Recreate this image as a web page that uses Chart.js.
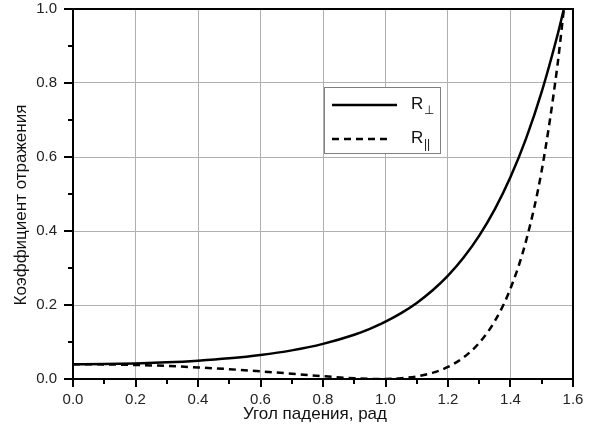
<!DOCTYPE html>
<html>
<head>
<meta charset="utf-8">
<script src="https://cdn.jsdelivr.net/npm/chart.js@4"></script>
<style>
  html, body { margin: 0; padding: 0; background: #fff; }
  #wrap { width: 594px; height: 432px; }
</style>
</head>
<body>
<div id="wrap"><canvas id="fresnelChart" width="594" height="432"></canvas></div>
<script>
// angle of incidence, rad
const angles = [0, 0.1, 0.2, 0.3, 0.4, 0.5, 0.6, 0.7, 0.8, 0.9, 0.95, 0.98, 1.0, 1.05, 1.1, 1.15, 1.2, 1.25, 1.3, 1.35, 1.4, 1.45, 1.5, 1.55, 1.5708];
// R perpendicular (solid)
const rPerp = [0.040, 0.0405, 0.0422, 0.0451, 0.0496, 0.0560, 0.0649, 0.0774, 0.0950, 0.1197, 0.1357, 0.1470, 0.1549, 0.1780, 0.2057, 0.2391, 0.2795, 0.3284, 0.3875, 0.4591, 0.5457, 0.6503, 0.7765, 0.9283, 1.0];
// R parallel (dashed)
const rPar = [0.040, 0.0395, 0.0379, 0.0352, 0.0314, 0.0265, 0.0207, 0.0142, 0.0075, 0.0020, 0.0004, 0.0, 0.0001, 0.0020, 0.0070, 0.0165, 0.0327, 0.0584, 0.0978, 0.1569, 0.2446, 0.3739, 0.5643, 0.8458, 1.0];

const legendBase = ['R', 'R'];
const legendSub = ['\u22A5', '||'];

const xTitle = 'Угол падения, рад';
const yTitle = 'Коэффициент отражения';

const FONT = '"Liberation Sans", Arial, sans-serif';

function toPoints(ys) {
    return angles.map((a, i) => ({ x: a, y: ys[i] }));
}

function isMajor(value) {
    return Math.round(value * 10) % 2 === 0;
}

function majorOnly(value) {
    return isMajor(value) ? value.toFixed(1) : '';
}

function gridColor(ctx) {
    if (!ctx.tick) return 'transparent';
    return isMajor(ctx.tick.value) ? '#b0b0b0' : 'transparent';
}

// box on top/right, outward ticks (long major, short minor), axis titles
const frame = {
    id: 'frame',
    afterDatasetsDraw(chart) {
        const { ctx, chartArea: a, scales } = chart;
        ctx.save();
        ctx.strokeStyle = '#000';
        ctx.lineWidth = 2;
        ctx.beginPath();
        ctx.moveTo(a.left, a.top);
        ctx.lineTo(a.right, a.top);
        ctx.lineTo(a.right, a.bottom);
        ctx.stroke();

        ctx.beginPath();
        scales.x.ticks.forEach(t => {
            const px = Math.round(scales.x.getPixelForValue(t.value));
            ctx.moveTo(px, a.bottom);
            ctx.lineTo(px, a.bottom + (isMajor(t.value) ? 8 : 5));
        });
        scales.y.ticks.forEach(t => {
            const py = Math.round(scales.y.getPixelForValue(t.value));
            ctx.moveTo(a.left, py);
            ctx.lineTo(a.left - (isMajor(t.value) ? 9 : 5), py);
        });
        ctx.stroke();

        ctx.fillStyle = '#111';
        ctx.font = '17px ' + FONT;
        ctx.textAlign = 'center';
        ctx.textBaseline = 'middle';
        ctx.fillText(xTitle, 315, 414);
        ctx.translate(21, 205);
        ctx.rotate(-Math.PI / 2);
        ctx.fillText(yTitle, 0, 0);
        ctx.restore();
    }
};

// boxed legend inside the plot
const boxLegend = {
    id: 'boxLegend',
    afterDatasetsDraw(chart) {
        const ctx = chart.ctx;
        const x0 = 324, y0 = 87, w = 116, h = 66;
        ctx.save();
        ctx.fillStyle = '#fff';
        ctx.fillRect(x0, y0, w, h);
        ctx.strokeStyle = '#808080';
        ctx.lineWidth = 1;
        ctx.strokeRect(x0 + 0.5, y0 + 0.5, w, h);

        const rows = [105, 139];
        const ends = [397, 390];
        chart.data.datasets.forEach((ds, i) => {
            ctx.strokeStyle = '#000';
            ctx.lineWidth = 2.5;
            ctx.setLineDash(ds.borderDash || []);
            ctx.beginPath();
            ctx.moveTo(332, rows[i]);
            ctx.lineTo(ends[i], rows[i]);
            ctx.stroke();
            ctx.setLineDash([]);

            ctx.fillStyle = '#111';
            ctx.textBaseline = 'middle';
            ctx.font = '17px ' + FONT;
            ctx.fillText(legendBase[i], 411, rows[i] - 1);
            ctx.font = '12px ' + FONT;
            ctx.fillText(legendSub[i], 424, rows[i] + 6);
        });
        ctx.restore();
    }
};

const ctx = document.getElementById('fresnelChart').getContext('2d');
const chart = new Chart(ctx, {
    type: 'line',
    data: {
        datasets: [{
            label: 'R\u22A5',
            data: toPoints(rPerp),
            borderColor: '#000',
            borderWidth: 2.5,
            pointRadius: 0,
            cubicInterpolationMode: 'monotone',
            fill: false
        }, {
            label: 'R||',
            data: toPoints(rPar),
            borderColor: '#000',
            borderWidth: 2.5,
            borderDash: [7, 5],
            pointRadius: 0,
            cubicInterpolationMode: 'monotone',
            fill: false
        }]
    },
    options: {
        responsive: false,
        animation: false,
        devicePixelRatio: 1,
        layout: { padding: { left: 0, top: 9, right: 21, bottom: 0 } },
        plugins: {
            legend: { display: false },
            tooltip: { enabled: false }
        },
        scales: {
            x: {
                type: 'linear',
                min: 0,
                max: 1.6,
                afterFit: s => { s.height = 53; },
                border: { color: '#000', width: 2 },
                grid: { color: gridColor, drawTicks: true, tickLength: 12, tickColor: 'transparent', lineWidth: 1 },
                ticks: {
                    stepSize: 0.1,
                    autoSkip: false,
                    maxRotation: 0,
                    padding: 0,
                    color: '#222',
                    font: { family: FONT, size: 15 },
                    callback: majorOnly
                }
            },
            y: {
                type: 'linear',
                min: 0,
                max: 1.0,
                afterFit: s => { s.width = 73; },
                border: { color: '#000', width: 2 },
                grid: { color: gridColor, drawTicks: true, tickLength: 16, tickColor: 'transparent', lineWidth: 1 },
                ticks: {
                    stepSize: 0.1,
                    autoSkip: false,
                    padding: 0,
                    color: '#222',
                    font: { family: FONT, size: 15 },
                    callback: majorOnly
                }
            }
        }
    },
    plugins: [frame, boxLegend]
});
</script>
</body>
</html>
